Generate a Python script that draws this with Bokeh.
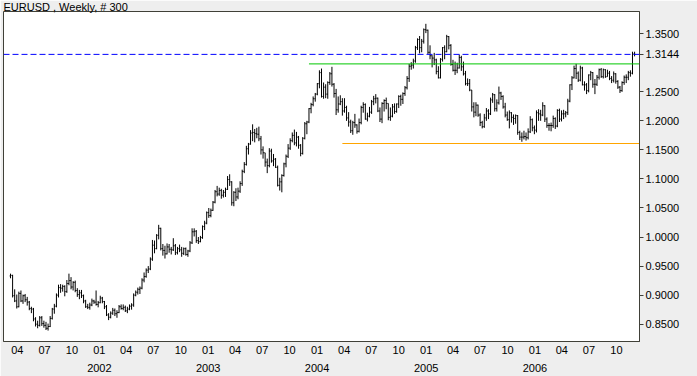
import pandas as pd
from bokeh.plotting import figure
from bokeh.models import (Range1d, FixedTicker, DatetimeAxis, Span,
                          ColumnDataSource, PrintfTickFormatter)
from bokeh.embed import file_html
from bokeh.resources import INLINE

title_text = "EURUSD , Weekly, # 300"
first_week = "2001-03-09"

# weekly OHLC in 1/10000 units
opens = [
    9330, 9340, 8990, 8900, 8800, 9030, 8900, 8990, 8920, 8880,
    8770, 8760, 8590, 8500, 8480, 8610, 8510, 8480, 8430, 8460,
    8600, 8760, 8810, 9000, 9130, 9120, 9150, 9060, 9200, 9250,
    9140, 9220, 9080, 9010, 9040, 8990, 8900, 8800, 8790, 8830,
    8900, 8880, 8840, 8870, 8950, 8890, 8800, 8660, 8620, 8690,
    8740, 8680, 8700, 8800, 8770, 8790, 8730, 8760, 8810, 8830,
    9000, 9050, 9100, 9120, 9260, 9320, 9430, 9450, 9620, 9860,
    9800, 10030, 10150, 9800, 9770, 9710, 9830, 9790, 9780, 9850,
    9730, 9800, 9780, 9720, 9800, 9700, 9760, 9900, 10090, 10100,
    9940, 9920, 9990, 10180, 10240, 10420, 10370, 10460, 10600, 10780,
    10740, 10800, 10720, 10770, 10820, 10990, 10950, 10590, 10770, 10690,
    10790, 10920, 11130, 11250, 11520, 11600, 11790, 11800, 11780, 11770,
    11690, 11500, 11450, 11290, 11230, 11480, 11310, 11340, 11200, 10890,
    10950, 11060, 11260, 11390, 11530, 11660, 11750, 11620, 11720, 11580,
    11440, 11700, 11950, 11980, 12210, 12280, 12380, 12460, 12640, 12830,
    12420, 12580, 12460, 12660, 12810, 12630, 12470, 12190, 12290, 12330,
    12170, 12230, 12050, 11980, 11830, 11970, 11930, 11820, 11970, 12230,
    12280, 12030, 12080, 12150, 12330, 12380, 12390, 12170, 12030, 12300,
    12350, 12300, 12060, 12080, 12240, 12160, 12290, 12420, 12370, 12470,
    12570, 12730, 12940, 12960, 13030, 13260, 13400, 13260, 13370, 13570,
    13560, 13180, 13120, 13080, 13050, 12850, 12740, 13060, 13260, 13190,
    13450, 13300, 12970, 12870, 12870, 12910, 13090, 12930, 12810, 12640,
    12640, 12530, 12240, 12150, 12270, 12100, 11970, 11900, 12050, 12170,
    12120, 12360, 12450, 12210, 12310, 12480, 12420, 12240, 12100, 12020,
    12140, 12060, 12040, 12090, 11800, 11720, 11720, 11730, 11710, 11810,
    12020, 11880, 11840, 12140, 12120, 12100, 12260, 12030, 11920, 11920,
    11920, 12040, 11910, 12180, 12030, 12120, 12120, 12140, 12340, 12620,
    12740, 12900, 12820, 12700, 12910, 12620, 12620, 12520, 12790, 12830,
    12630, 12630, 12750, 12880, 12760, 12880, 12760, 12820, 12730, 12700,
    12810, 12680, 12580, 12520, 12660, 12750, 12750, 12830, 12820, 13150,
]
highs = [
    9370, 9350, 9100, 9010, 9060, 9080, 9010, 9020, 8970, 8900,
    8800, 8780, 8620, 8560, 8640, 8640, 8560, 8540, 8510, 8640,
    8780, 8850, 9030, 9180, 9190, 9180, 9170, 9260, 9370, 9310,
    9240, 9250, 9120, 9090, 9090, 9010, 8920, 8850, 8870, 8940,
    8920, 9080, 8900, 8990, 8970, 8900, 8830, 8690, 8720, 8780,
    8770, 8740, 8830, 8840, 8840, 8820, 8800, 8840, 8860, 9030,
    9080, 9130, 9150, 9290, 9390, 9460, 9500, 9650, 9950, 9940,
    10050, 10210, 10160, 9880, 9850, 9890, 9880, 9830, 9980, 9880,
    9830, 9870, 9830, 9820, 9820, 9780, 9930, 10150, 10150, 10120,
    10000, 10020, 10200, 10280, 10440, 10500, 10490, 10620, 10810, 10880,
    10850, 10830, 10810, 10850, 11050, 11080, 10960, 10790, 10840, 10850,
    10960, 11160, 11290, 11570, 11620, 11840, 11940, 11860, 11880, 11900,
    11740, 11560, 11450, 11350, 11530, 11520, 11430, 11360, 11230, 11020,
    11080, 11280, 11420, 11600, 11700, 11800, 11850, 11810, 11740, 11600,
    11720, 11980, 12000, 12220, 12310, 12420, 12480, 12650, 12870, 12900,
    12660, 12630, 12680, 12840, 12930, 12650, 12550, 12420, 12440, 12390,
    12390, 12260, 12150, 12020, 12000, 12120, 11940, 12040, 12260, 12320,
    12300, 12140, 12240, 12360, 12430, 12460, 12400, 12230, 12320, 12370,
    12400, 12300, 12230, 12290, 12300, 12300, 12440, 12450, 12490, 12600,
    12770, 12980, 13010, 13070, 13290, 13420, 13460, 13410, 13590, 13670,
    13570, 13300, 13130, 13170, 13070, 12940, 13080, 13270, 13300, 13480,
    13460, 13320, 13050, 13020, 13000, 13140, 13120, 13020, 12860, 12730,
    12720, 12530, 12320, 12320, 12280, 12130, 12000, 12120, 12220, 12200,
    12400, 12480, 12460, 12370, 12590, 12500, 12440, 12310, 12160, 12180,
    12150, 12110, 12110, 12100, 11830, 11800, 11830, 11800, 11870, 12080,
    12040, 11920, 12180, 12200, 12190, 12320, 12270, 12060, 11960, 11970,
    12090, 12060, 12200, 12210, 12180, 12190, 12170, 12380, 12630, 12770,
    12950, 12980, 12850, 12950, 12930, 12680, 12650, 12800, 12860, 12840,
    12720, 12790, 12900, 12910, 12900, 12890, 12880, 12860, 12770, 12850,
    12820, 12700, 12600, 12680, 12780, 12800, 12860, 12870, 13190, 13190,
]
lows = [
    9290, 8960, 8880, 8770, 8790, 8880, 8850, 8880, 8820, 8740,
    8690, 8550, 8460, 8430, 8460, 8470, 8440, 8400, 8390, 8450,
    8580, 8680, 8790, 8960, 9040, 9060, 8980, 9040, 9170, 9100,
    9080, 9050, 8970, 8930, 8950, 8860, 8780, 8760, 8750, 8810,
    8850, 8820, 8790, 8860, 8860, 8760, 8640, 8570, 8600, 8660,
    8640, 8610, 8690, 8750, 8740, 8710, 8690, 8740, 8750, 8800,
    8980, 9010, 9020, 9100, 9220, 9300, 9380, 9430, 9590, 9720,
    9790, 9960, 9770, 9680, 9630, 9700, 9730, 9700, 9760, 9690,
    9700, 9740, 9660, 9690, 9680, 9660, 9740, 9880, 10010, 9900,
    9880, 9910, 9970, 10120, 10220, 10330, 10340, 10450, 10580, 10700,
    10710, 10660, 10680, 10690, 10810, 10880, 10540, 10530, 10620, 10650,
    10760, 10880, 11100, 11230, 11420, 11590, 11650, 11630, 11700, 11650,
    11420, 11350, 11210, 11100, 11200, 11280, 11220, 11190, 10870, 10800,
    10770, 11040, 11200, 11360, 11500, 11630, 11580, 11560, 11520, 11390,
    11420, 11680, 11770, 11960, 12130, 12250, 12330, 12440, 12560, 12400,
    12380, 12390, 12380, 12620, 12590, 12400, 12100, 12140, 12270, 12090,
    12140, 12000, 11900, 11790, 11760, 11880, 11780, 11800, 11940, 12140,
    12020, 11990, 12060, 12120, 12270, 12300, 12150, 11980, 11960, 12160,
    12200, 12010, 12000, 12060, 12120, 12140, 12220, 12260, 12290, 12430,
    12540, 12670, 12880, 12900, 13000, 13220, 13160, 13180, 13330, 13510,
    13150, 13060, 12920, 12960, 12800, 12730, 12730, 13020, 13060, 13180,
    13230, 12950, 12850, 12790, 12820, 12900, 12860, 12780, 12610, 12600,
    12510, 12160, 12060, 12080, 12070, 11910, 11870, 11880, 12000, 12030,
    12100, 12310, 12160, 12160, 12280, 12360, 12210, 12060, 12000, 11870,
    11970, 11930, 11950, 11760, 11670, 11640, 11680, 11660, 11680, 11790,
    11820, 11770, 11800, 12000, 12000, 12080, 11980, 11880, 11830, 11820,
    11880, 11860, 11890, 11980, 11990, 12030, 12060, 12100, 12320, 12530,
    12730, 12720, 12670, 12680, 12610, 12520, 12460, 12490, 12700, 12570,
    12460, 12600, 12710, 12740, 12730, 12740, 12760, 12700, 12650, 12660,
    12640, 12550, 12480, 12500, 12620, 12650, 12700, 12760, 12800, 13110,
]
closes = [
    9340, 8990, 8900, 8800, 9030, 8900, 8990, 8920, 8880, 8770,
    8760, 8590, 8500, 8480, 8610, 8510, 8480, 8430, 8460, 8600,
    8760, 8810, 9000, 9130, 9120, 9150, 9060, 9200, 9250, 9140,
    9220, 9080, 9010, 9040, 8990, 8900, 8800, 8790, 8830, 8900,
    8880, 8840, 8870, 8950, 8890, 8800, 8660, 8620, 8690, 8740,
    8680, 8700, 8800, 8770, 8790, 8730, 8760, 8810, 8830, 9000,
    9050, 9100, 9120, 9260, 9320, 9430, 9450, 9620, 9860, 9800,
    10030, 10150, 9800, 9770, 9710, 9830, 9790, 9780, 9850, 9730,
    9800, 9780, 9720, 9800, 9700, 9760, 9900, 10090, 10100, 9940,
    9920, 9990, 10180, 10240, 10420, 10370, 10460, 10600, 10780, 10740,
    10800, 10720, 10770, 10820, 10990, 10950, 10590, 10770, 10690, 10790,
    10920, 11130, 11250, 11520, 11600, 11790, 11800, 11780, 11770, 11690,
    11500, 11450, 11290, 11230, 11480, 11310, 11340, 11200, 10890, 10950,
    11060, 11260, 11390, 11530, 11660, 11750, 11620, 11720, 11580, 11440,
    11700, 11950, 11980, 12210, 12280, 12380, 12460, 12640, 12830, 12420,
    12580, 12460, 12660, 12810, 12630, 12470, 12190, 12290, 12330, 12170,
    12230, 12050, 11980, 11830, 11970, 11930, 11820, 11970, 12230, 12280,
    12030, 12080, 12150, 12330, 12380, 12390, 12170, 12030, 12300, 12350,
    12300, 12060, 12080, 12240, 12160, 12290, 12420, 12370, 12470, 12570,
    12730, 12940, 12960, 13030, 13260, 13400, 13260, 13370, 13570, 13560,
    13180, 13120, 13080, 13050, 12850, 12740, 13060, 13260, 13190, 13450,
    13300, 12970, 12870, 12870, 12910, 13090, 12930, 12810, 12640, 12640,
    12530, 12240, 12150, 12270, 12100, 11970, 11900, 12050, 12170, 12120,
    12360, 12450, 12210, 12310, 12480, 12420, 12240, 12100, 12020, 12140,
    12060, 12040, 12090, 11800, 11720, 11720, 11730, 11710, 11810, 12020,
    11880, 11840, 12140, 12120, 12100, 12260, 12030, 11920, 11920, 11920,
    12040, 11910, 12180, 12030, 12120, 12120, 12140, 12340, 12620, 12740,
    12900, 12820, 12700, 12910, 12620, 12620, 12520, 12790, 12830, 12630,
    12630, 12750, 12880, 12760, 12880, 12760, 12820, 12730, 12700, 12810,
    12680, 12580, 12520, 12660, 12750, 12750, 12830, 12820, 13150, 13144,
]

last_quote = 1.3144
resistance_level = 1.2980
resistance_start_week = 143
support_level = 1.1610
support_start_week = 159
price_ticks = [0.85, 0.90, 0.95, 1.00, 1.05, 1.10, 1.15, 1.20, 1.25, 1.35]
quarter_starts = pd.date_range("2001-04-01", "2006-10-01", freq="QS")
year_starts = pd.date_range("2002-01-01", "2006-01-01", freq="YS")

PIP = 10000.0
dates = pd.date_range(first_week, periods=len(closes), freq="7D")
half = pd.Timedelta(days=3)

src = ColumnDataSource(dict(
    x=dates, xl=dates - half, xr=dates + half,
    o=[v / PIP for v in opens], h=[v / PIP for v in highs],
    l=[v / PIP for v in lows], c=[v / PIP for v in closes],
))

x_start = pd.Timestamp(first_week) - pd.Timedelta(hours=564)
x_end = x_start + pd.Timedelta(days=2133)

FONT = "Liberation Sans"
DARK = "#404038"

p = figure(width=697, height=376, x_axis_type="datetime", y_axis_location="right",
           output_backend="svg", toolbar_location=None,
           x_range=Range1d(x_start, x_end), y_range=Range1d(0.8202, 1.3882),
           min_border_left=3, min_border_right=58, min_border_top=11, min_border_bottom=35)
p.background_fill_color = "white"
p.border_fill_color = "#EEEEEE"
p.outline_line_color = DARK
p.xgrid.visible = False
p.ygrid.visible = False

p.title.text = title_text
p.title.align = "left"
p.title.standoff = -3
p.title.offset = 0
p.title.text_font = FONT
p.title.text_font_size = "11px"
p.title.text_font_style = "normal"
p.title.text_color = "black"

# OHLC bars
p.segment("x", "l", "x", "h", source=src, line_color="black", line_width=1)
p.segment("xl", "o", "x", "o", source=src, line_color="black", line_width=1)
p.segment("x", "c", "xr", "c", source=src, line_color="black", line_width=1)

# horizontal levels
p.segment(x0=[dates[resistance_start_week]], y0=[resistance_level],
          x1=[x_end], y1=[resistance_level], line_color="#00C800", line_width=1)
p.segment(x0=[dates[support_start_week]], y0=[support_level],
          x1=[x_end], y1=[support_level], line_color="#FFA500", line_width=1)
p.add_layout(Span(location=last_quote, dimension="width", line_color="#0000FF",
                  line_dash="6 3", line_width=1))

# right price axis (includes the last quote tick)
ya = p.yaxis[0]
ya.ticker = FixedTicker(ticks=price_ticks + [last_quote])
ya.formatter = PrintfTickFormatter(format="%.4f")
ya.major_tick_out = 4
ya.major_tick_in = 0
ya.minor_tick_line_color = None
ya.major_label_standoff = 2
ya.axis_line_color = DARK
ya.major_tick_line_color = DARK
ya.major_label_text_font = FONT
ya.major_label_text_font_size = "11px"
ya.major_label_text_color = "black"

# month axis
q_ms = [int(t.value // 10**6) for t in quarter_starts]
xa = p.xaxis[0]
xa.ticker = FixedTicker(ticks=q_ms)
xa.major_label_overrides = {m: t.strftime("%m") for m, t in zip(q_ms, quarter_starts)}
xa.major_tick_out = 0
xa.major_tick_in = 0
xa.minor_tick_line_color = None
xa.major_label_standoff = 4
xa.axis_line_color = DARK
xa.major_label_text_font = FONT
xa.major_label_text_font_size = "11px"
xa.major_label_text_color = "black"

# year axis
y_ms = [int(t.value // 10**6) for t in year_starts]
yr = DatetimeAxis(ticker=FixedTicker(ticks=y_ms),
                  major_label_overrides={m: t.strftime("%Y") for m, t in zip(y_ms, year_starts)},
                  axis_line_color=None, major_tick_line_color=None,
                  minor_tick_line_color=None, major_label_standoff=1,
                  major_label_text_font=FONT, major_label_text_font_size="11px",
                  major_label_text_color="black")
p.add_layout(yr, "below")

open("out.html", "w").write(file_html(p, INLINE))
